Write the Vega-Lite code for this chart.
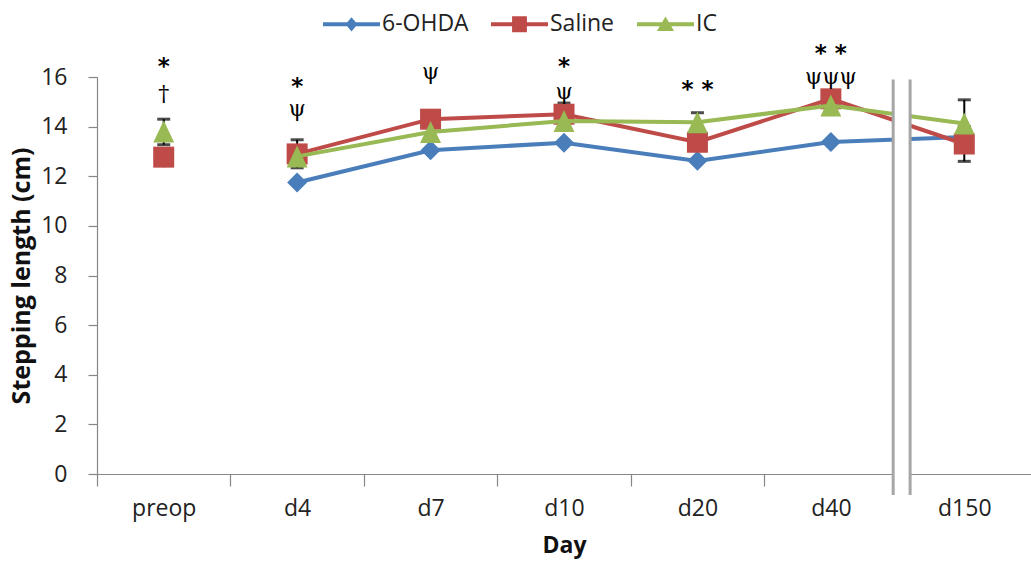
{
  "$schema": "https://vega.github.io/schema/vega-lite/v6.json",
  "width": 934,
  "height": 397,
  "autosize": {"type": "none"},
  "padding": {"left": 97, "top": 77, "right": 0, "bottom": 87},
  "background": "white",
  "config": {
    "view": {"stroke": null},
    "font": "Open Sans",
    "axis": {
      "grid": false,
      "domainColor": "#868686",
      "tickColor": "#868686",
      "domainWidth": 1.2,
      "tickWidth": 1.2,
      "labelFont": "Open Sans",
      "labelFontSize": 23,
      "labelColor": "#222222",
      "titleFont": "Open Sans",
      "titleFontSize": 23,
      "titleFontWeight": "bold",
      "titleColor": "#111111"
    }
  },
  "datasets": {
    "main": [
      {"series": "6-OHDA", "day": "preop", "i": 0, "value": 12.75},
      {"series": "6-OHDA", "day": "d4", "i": 1, "value": 11.75},
      {"series": "6-OHDA", "day": "d7", "i": 2, "value": 13.05},
      {"series": "6-OHDA", "day": "d10", "i": 3, "value": 13.35},
      {"series": "6-OHDA", "day": "d20", "i": 4, "value": 12.62},
      {"series": "6-OHDA", "day": "d40", "i": 5, "value": 13.38},
      {"series": "6-OHDA", "day": "d150", "i": 6, "value": 13.58},
      {"series": "Saline", "day": "preop", "i": 0, "value": 12.77},
      {"series": "Saline", "day": "d4", "i": 1, "value": 12.9, "lo": 12.34, "hi": 13.47},
      {"series": "Saline", "day": "d7", "i": 2, "value": 14.3},
      {"series": "Saline", "day": "d10", "i": 3, "value": 14.5, "lo": 14.05, "hi": 14.95},
      {"series": "Saline", "day": "d20", "i": 4, "value": 13.37},
      {"series": "Saline", "day": "d40", "i": 5, "value": 15.12},
      {"series": "Saline", "day": "d150", "i": 6, "value": 13.3, "lo": 12.6, "hi": 14.0},
      {"series": "IC", "day": "preop", "i": 0, "value": 13.8, "lo": 13.27, "hi": 14.3},
      {"series": "IC", "day": "d4", "i": 1, "value": 12.8},
      {"series": "IC", "day": "d7", "i": 2, "value": 13.78},
      {"series": "IC", "day": "d10", "i": 3, "value": 14.23},
      {"series": "IC", "day": "d20", "i": 4, "value": 14.18, "lo": 13.8, "hi": 14.56},
      {"series": "IC", "day": "d40", "i": 5, "value": 14.85},
      {"series": "IC", "day": "d150", "i": 6, "value": 14.13, "lo": 13.18, "hi": 15.08}
    ],
    "notes": [
      {"i": 0, "y": 16.4, "label": "*"},
      {"i": 0, "y": 15.3, "label": "†"},
      {"i": 1, "y": 15.6, "label": "*"},
      {"i": 1, "y": 14.72, "label": "ψ"},
      {"i": 2, "y": 16.2, "label": "ψ"},
      {"i": 3, "y": 16.4, "label": "*"},
      {"i": 3, "y": 15.38, "label": "ψ"},
      {"i": 4, "y": 15.48, "label": "* *"},
      {"i": 5, "y": 16.92, "label": "* *"},
      {"i": 5, "y": 15.98, "label": "ψψψ"}
    ],
    "one": [{}]
  },
  "layer": [
    {
      "data": {"name": "main"},
      "transform": [{"filter": "false"}],
      "mark": {"type": "point", "filled": true, "opacity": 1},
      "encoding": {
        "x": {"field": "i", "type": "quantitative", "scale": {"domain": [-0.5, 6.5], "nice": false, "zero": false},
          "axis": {"values": [-0.5, 0.5, 1.5, 2.5, 3.5, 4.5, 5.5], "labelExpr": "['preop','d4','d7','d10','d20','d40','d150'][round(datum.value + 0.5)]", "labelOffset": 66.7, "labelFlush": false, "labelOverlap": false, "tickSize": 12, "labelPadding": 11, "titlePadding": 14, "title": "Day"}},
        "y": {"field": "value", "type": "quantitative", "scale": {"domain": [0, 16], "nice": false},
          "axis": {"values": [0, 2, 4, 6, 8, 10, 12, 14, 16], "tickSize": 9, "labelPadding": 21, "titlePadding": 6, "titleFontSize": 25, "title": "Stepping length (cm)"}},
        "color": {"field": "series", "type": "nominal", "scale": {"domain": ["6-OHDA", "Saline", "IC"], "range": ["#4a7ebb", "#be4b48", "#98b954"]},
          "legend": {"title": null, "orient": "none", "legendX": 226, "legendY": -81.5, "direction": "horizontal",
            "symbolSize": 3249, "symbolStrokeWidth": 0, "symbolOpacity": 1, "labelFont": "Open Sans", "labelFontSize": 23,
            "labelColor": "#222222", "labelOffset": 2, "columnPadding": 22}},
        "shape": {"field": "series", "type": "nominal", "scale": {"domain": ["6-OHDA", "Saline", "IC"],
          "range": [
            "M-1,-0.07L1,-0.07L1,0.07L-1,0.07Z M-0.21,0L0,-0.25L0.21,0L0,0.25Z",
            "M-1,-0.07L1,-0.07L1,0.07L-1,0.07Z M-0.26,-0.28L0.26,-0.28L0.26,0.28L-0.26,0.28Z",
            "M-1,-0.07L1,-0.07L1,0.07L-1,0.07Z M0,-0.27L0.3,0.24L-0.3,0.24Z"
          ]}}
      }
    },
    {
      "data": {"name": "main"},
      "transform": [{"filter": "isValid(datum.lo)"}],
      "mark": {"type": "rule", "color": "black", "strokeWidth": 2},
      "encoding": {
        "x": {"field": "i", "type": "quantitative"},
        "y": {"field": "lo", "type": "quantitative"},
        "y2": {"field": "hi"}
      }
    },
    {
      "data": {"name": "main"},
      "transform": [{"filter": "isValid(datum.lo)"}, {"fold": ["lo", "hi"], "as": ["end", "v"]}],
      "mark": {"type": "tick", "color": "black", "orient": "horizontal", "size": 13, "thickness": 3},
      "encoding": {
        "x": {"field": "i", "type": "quantitative"},
        "y": {"field": "v", "type": "quantitative"}
      }
    },
    {
      "data": {"name": "main"},
      "transform": [{"filter": "datum.i >= 1 && datum.series == '6-OHDA'"}],
      "mark": {"type": "line", "strokeWidth": 4, "color": "#4a7ebb"},
      "encoding": {
        "x": {"field": "i", "type": "quantitative"},
        "y": {"field": "value", "type": "quantitative"},
        "order": {"field": "i", "type": "quantitative"}
      }
    },
    {
      "data": {"name": "main"},
      "transform": [{"filter": "datum.series == '6-OHDA'"}],
      "mark": {"type": "point", "filled": true, "opacity": 1, "shape": "diamond", "size": 400, "color": "#4a7ebb"},
      "encoding": {
        "x": {"field": "i", "type": "quantitative"},
        "y": {"field": "value", "type": "quantitative"}
      }
    },
    {
      "data": {"name": "main"},
      "transform": [{"filter": "datum.i >= 1 && datum.series == 'Saline'"}],
      "mark": {"type": "line", "strokeWidth": 4, "color": "#be4b48"},
      "encoding": {
        "x": {"field": "i", "type": "quantitative"},
        "y": {"field": "value", "type": "quantitative"},
        "order": {"field": "i", "type": "quantitative"}
      }
    },
    {
      "data": {"name": "main"},
      "transform": [{"filter": "datum.series == 'Saline'"}],
      "mark": {"type": "point", "filled": true, "opacity": 1, "shape": "square", "size": 441, "color": "#be4b48"},
      "encoding": {
        "x": {"field": "i", "type": "quantitative"},
        "y": {"field": "value", "type": "quantitative"}
      }
    },
    {
      "data": {"name": "main"},
      "transform": [{"filter": "datum.i >= 1 && datum.series == 'IC'"}],
      "mark": {"type": "line", "strokeWidth": 4, "color": "#98b954"},
      "encoding": {
        "x": {"field": "i", "type": "quantitative"},
        "y": {"field": "value", "type": "quantitative"},
        "order": {"field": "i", "type": "quantitative"}
      }
    },
    {
      "data": {"name": "main"},
      "transform": [{"filter": "datum.series == 'IC'"}],
      "mark": {"type": "point", "filled": true, "opacity": 1, "shape": "M0,-1L0.95,1L-0.95,1Z", "size": 484, "color": "#98b954"},
      "encoding": {
        "x": {"field": "i", "type": "quantitative"},
        "y": {"field": "value", "type": "quantitative"}
      }
    },
    {
      "data": {"name": "one"},
      "mark": {"type": "rect", "fill": "white"},
      "encoding": {
        "x": {"datum": 5.467, "type": "quantitative"},
        "x2": {"datum": 5.594},
        "y": {"datum": -0.85, "type": "quantitative"},
        "y2": {"datum": 16.2}
      }
    },
    {
      "data": {"name": "one"},
      "mark": {"type": "rule", "color": "#a6a6a6", "strokeWidth": 3},
      "encoding": {
        "x": {"datum": 5.467, "type": "quantitative"},
        "y": {"datum": -0.85, "type": "quantitative"},
        "y2": {"datum": 15.9}
      }
    },
    {
      "data": {"name": "one"},
      "mark": {"type": "rule", "color": "#a6a6a6", "strokeWidth": 3},
      "encoding": {
        "x": {"datum": 5.594, "type": "quantitative"},
        "y": {"datum": -0.85, "type": "quantitative"},
        "y2": {"datum": 15.9}
      }
    },
    {
      "data": {"name": "notes"},
      "transform": [{"filter": "indexof(datum.label, '*') >= 0"}],
      "mark": {"type": "text", "font": "DejaVu Sans", "fontSize": 23, "fontWeight": "bold", "color": "black", "baseline": "middle", "align": "center"},
      "encoding": {
        "x": {"field": "i", "type": "quantitative"},
        "y": {"field": "y", "type": "quantitative"},
        "text": {"field": "label"}
      }
    },
    {
      "data": {"name": "notes"},
      "transform": [{"filter": "indexof(datum.label, '*') < 0"}],
      "mark": {"type": "text", "font": "DejaVu Serif", "fontSize": 22, "color": "black", "baseline": "middle", "align": "center"},
      "encoding": {
        "x": {"field": "i", "type": "quantitative"},
        "y": {"field": "y", "type": "quantitative"},
        "text": {"field": "label"}
      }
    }
  ]
}
